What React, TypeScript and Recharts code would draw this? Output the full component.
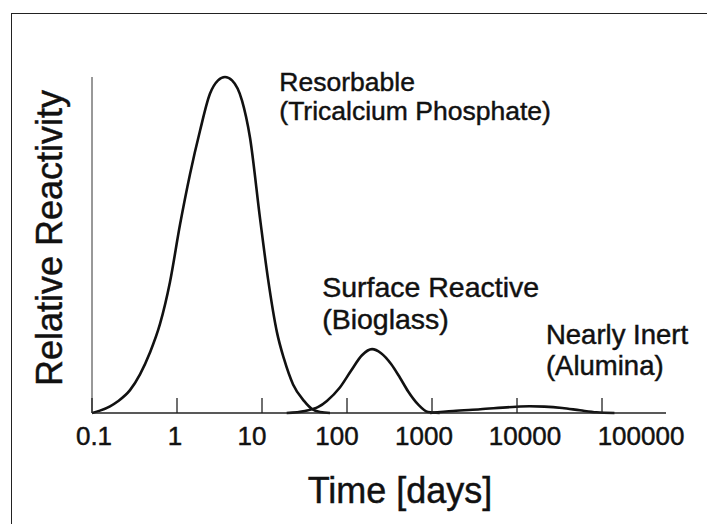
import { ComposedChart, Line, XAxis, YAxis, ReferenceDot } from "recharts";

// time in days (log axis) and relative reactivity
const resorbableT = [0.1, 0.124, 0.163, 0.202, 0.28, 0.367, 0.481, 0.631, 0.827, 1.084, 1.42, 1.865, 2.44, 3.04, 3.67, 4.44, 5.82, 7.22, 9.47, 11.76, 15.0, 18.2, 23.2, 31.2, 38.7, 48.1, 63.1];
const resorbableV = [0, 0.007, 0.02, 0.035, 0.068, 0.115, 0.18, 0.265, 0.39, 0.56, 0.71, 0.84, 0.95, 0.99, 1.0, 0.99, 0.93, 0.82, 0.58, 0.4, 0.24, 0.16, 0.085, 0.036, 0.012, 0.003, 0];

const bioglassT = [19.5, 32, 46, 58, 82, 111, 150, 197, 252, 330, 420, 522, 690, 900, 1230];
const bioglassV = [0, 0.006, 0.018, 0.036, 0.075, 0.125, 0.172, 0.19, 0.178, 0.146, 0.105, 0.065, 0.025, 0.003, 0];

const aluminaT = [950, 1770, 3700, 8900, 14000, 21000, 34000, 55000, 86000, 140000];
const aluminaV = [0, 0.006, 0.011, 0.018, 0.02, 0.019, 0.015, 0.008, 0.002, 0];

const timeTicks = [0.1, 1, 10, 100, 1000, 10000, 100000];
const tickLabels = ["0.1", "1", "10", "100", "1000", "10000", "100000"];
// small horizontal nudges so labels sit where the original put them
const tickNudge = [2, -2, -10, -10, -8, 8, 39];

const annotations = [
  { t: 16, v: 0.958, lines: ["Resorbable", "(Tricalcium Phosphate)"], gap: 29, size: 26.5 },
  { t: 51, v: 0.345, lines: ["Surface Reactive", "(Bioglass)"], gap: 32, size: 28.5 },
  { t: 21900, v: 0.205, lines: ["Nearly Inert", "(Alumina)"], gap: 31, size: 27.5 },
];

const toPoints = (ts: number[], vs: number[]) => ts.map((t, i) => ({ t, v: vs[i] }));

const FONT = '"Liberation Sans", Arial, Helvetica, sans-serif';
const INK = "#111";
// the scanned original has slightly heavy lettering
const textInk = { fill: INK, stroke: INK, strokeWidth: 0.45 };

function TimeTick(props: any) {
  const { x, y, payload, index } = props;
  return (
    <g>
      <line x1={x} y1={y} x2={x} y2={y - 15} stroke="#222" strokeWidth={1.3} />
      <text x={x + (tickNudge[index] ?? 0)} y={y + 32} textAnchor="middle" fontSize={26} fontFamily={FONT} {...textInk}>
        {tickLabels[index] ?? payload.value}
      </text>
    </g>
  );
}

function NoteLabel(props: any) {
  const { viewBox, lines, gap, size } = props;
  return (
    <text x={viewBox.x} y={viewBox.y} fontSize={size} fontFamily={FONT} {...textInk}>
      {lines.map((s: string, i: number) => (
        <tspan key={i} x={viewBox.x} dy={i === 0 ? 0 : gap}>
          {s}
        </tspan>
      ))}
    </text>
  );
}

export default function App() {
  return (
    <div style={{ position: "absolute", left: 0, top: 0, width: 707, height: 524, background: "#fff", overflow: "hidden" }}>
      <div
        style={{
          position: "absolute",
          left: 11,
          top: 13,
          width: 720,
          height: 540,
          borderLeft: "1.5px solid #222",
          borderTop: "1.5px solid #222",
        }}
      />
      <ComposedChart
        width={707}
        height={524}
        margin={{ top: 77, right: 41, bottom: 0, left: 0 }}
        style={{ position: "absolute", left: 0, top: 0 }}
      >
        <XAxis
          dataKey="t"
          type="number"
          scale="log"
          domain={[0.1, 566000]}
          allowDataOverflow
          ticks={timeTicks}
          height={111}
          tickSize={0}
          tickMargin={0}
          tickLine={false}
          axisLine={{ stroke: "#222", strokeWidth: 1.5 }}
          tick={<TimeTick />}
          label={{
            content: ({ viewBox }: any) => (
              <text x={viewBox.x + viewBox.width / 2 + 21} y={viewBox.y + 90} textAnchor="middle" fontSize={36} fontFamily={FONT} {...textInk}>
                Time [days]
              </text>
            ),
          }}
        />
        <YAxis
          type="number"
          domain={[0, 1]}
          width={92}
          tick={false}
          tickLine={false}
          axisLine={{ stroke: "#333", strokeWidth: 1 }}
          label={{
            content: ({ viewBox }: any) => {
              const cx = viewBox.x + viewBox.width - 30;
              const cy = viewBox.y + viewBox.height / 2 - 7;
              return (
                <text x={cx} y={cy} transform={`rotate(-90, ${cx}, ${cy})`} textAnchor="middle" fontSize={36} fontFamily={FONT} {...textInk}>
                  Relative Reactivity
                </text>
              );
            },
          }}
        />
        <Line data={toPoints(resorbableT, resorbableV)} dataKey="v" type="monotone" stroke={INK} strokeWidth={2.6} dot={false} isAnimationActive={false} />
        <Line data={toPoints(bioglassT, bioglassV)} dataKey="v" type="monotone" stroke={INK} strokeWidth={2.6} dot={false} isAnimationActive={false} />
        <Line data={toPoints(aluminaT, aluminaV)} dataKey="v" type="monotone" stroke={INK} strokeWidth={2.6} dot={false} isAnimationActive={false} />
        {annotations.map((a) => (
          <ReferenceDot
            key={a.lines[0]}
            x={a.t}
            y={a.v}
            r={0}
            fill="none"
            stroke="none"
            label={<NoteLabel lines={a.lines} gap={a.gap} size={a.size} />}
          />
        ))}
      </ComposedChart>
    </div>
  );
}
